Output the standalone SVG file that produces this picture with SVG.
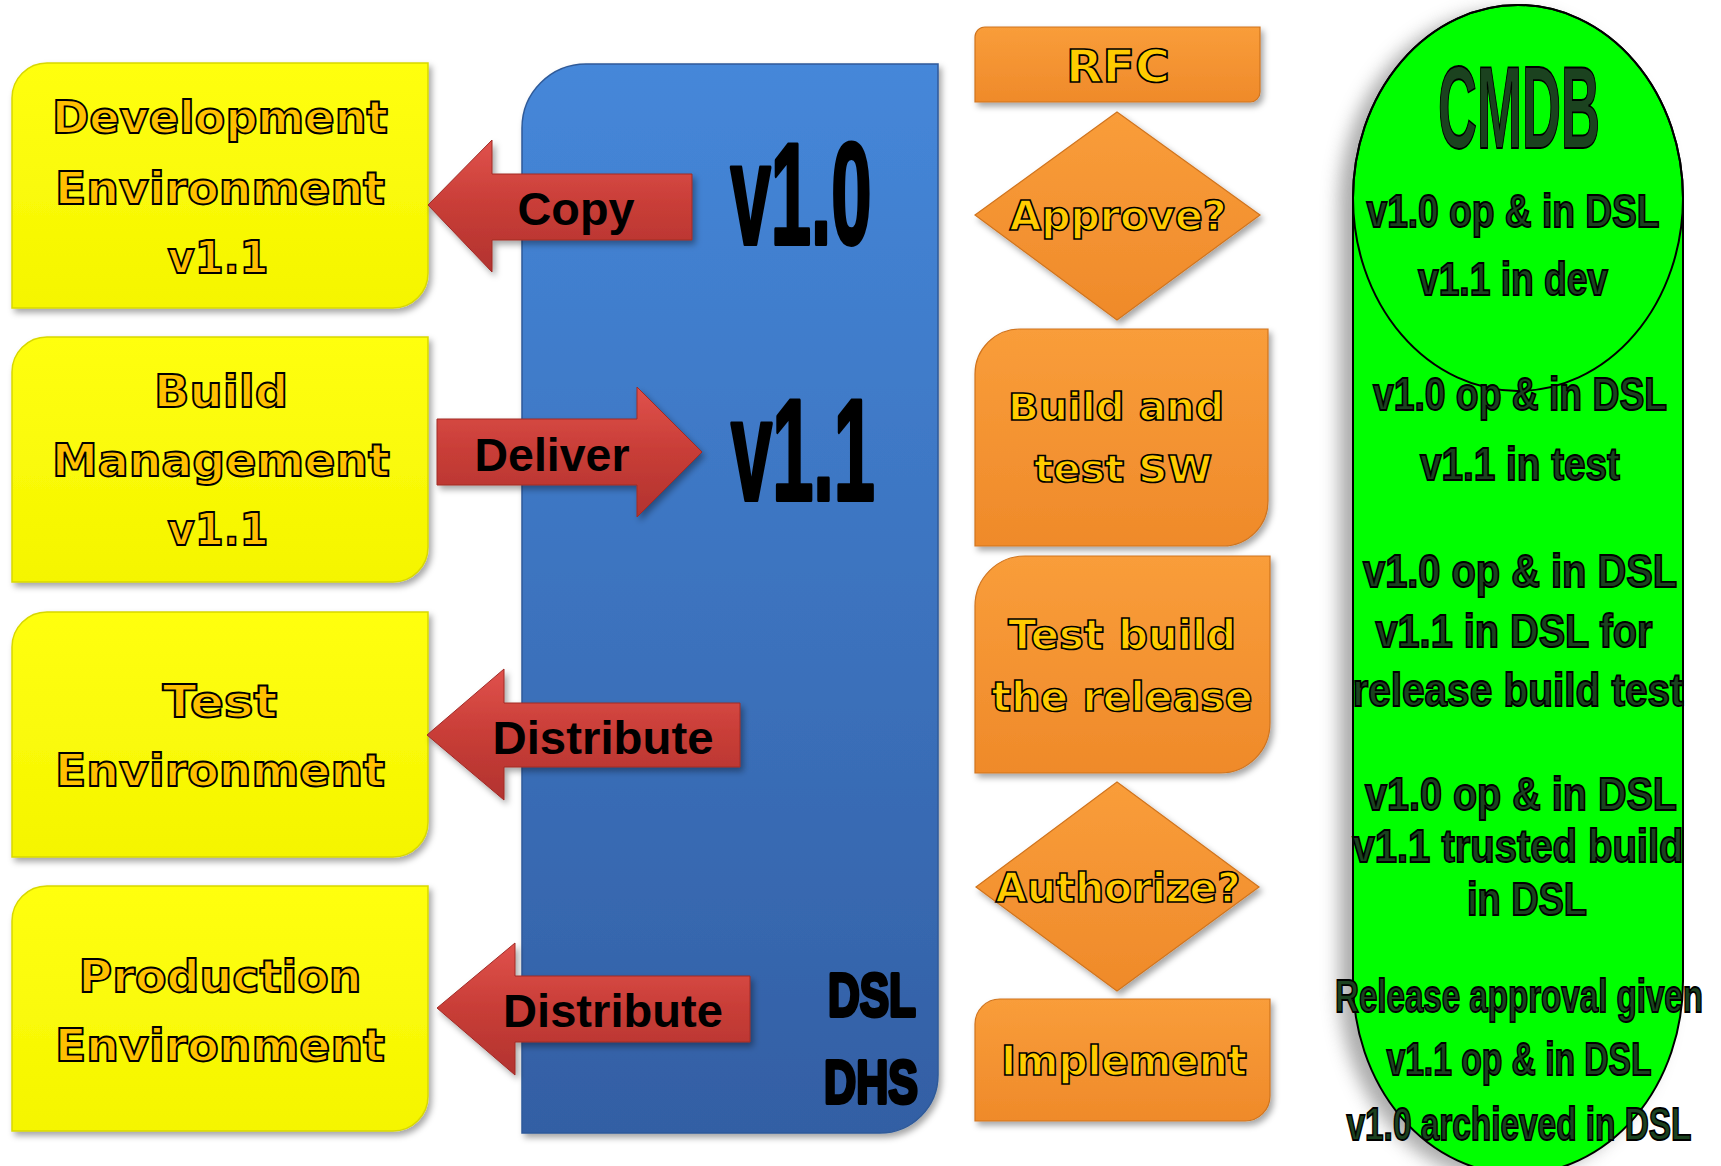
<svg xmlns="http://www.w3.org/2000/svg" width="1721" height="1166" viewBox="0 0 1721 1166">
<defs>
  <linearGradient id="gYellow" x1="0" y1="0" x2="0" y2="1">
    <stop offset="0" stop-color="#FFFF10"/>
    <stop offset="1" stop-color="#F5F500"/>
  </linearGradient>
  <linearGradient id="gBlue" x1="0" y1="0" x2="0" y2="1">
    <stop offset="0" stop-color="#4587D9"/>
    <stop offset="1" stop-color="#335FA4"/>
  </linearGradient>
  <linearGradient id="gOrange" x1="0" y1="0" x2="0" y2="1">
    <stop offset="0" stop-color="#F99D3A"/>
    <stop offset="1" stop-color="#EF8A2A"/>
  </linearGradient>
  <linearGradient id="gRed" x1="0" y1="0" x2="0" y2="1">
    <stop offset="0" stop-color="#E0524C"/>
    <stop offset="0.5" stop-color="#C83D37"/>
    <stop offset="1" stop-color="#B2332F"/>
  </linearGradient>
  <filter id="shadow" x="-10%" y="-10%" width="130%" height="130%">
    <feDropShadow dx="3" dy="4" stdDeviation="3" flood-color="#000" flood-opacity="0.35"/>
  </filter>
  <filter id="blur" x="-20%" y="-10%" width="140%" height="120%">
    <feGaussianBlur stdDeviation="9"/>
  </filter>
  <style>
    .ybox { fill: url(#gYellow); stroke: #D8D800; stroke-width: 1.5; filter: url(#shadow); }
    .obox { fill: url(#gOrange); stroke: #D0741E; stroke-width: 1.2; filter: url(#shadow); }
    .arrow { fill: url(#gRed); stroke: #A02A26; stroke-width: 1; filter: url(#shadow); }
    .wide { font-family: "DejaVu Sans", "Liberation Sans", sans-serif; font-weight: bold; fill: #FFC000; stroke: #000; stroke-width: 1.8; text-anchor: middle; }
    .owide { font-family: "DejaVu Sans", "Liberation Sans", sans-serif; font-weight: bold; fill: #FFCC00; stroke: #000; stroke-width: 1.6; text-anchor: middle; }
    .alabel { font-family: "Liberation Sans", Arial, sans-serif; font-weight: bold; fill: #000; text-anchor: middle; }
    .cond { font-family: "Liberation Sans", Arial, sans-serif; font-weight: bold; fill: #000; stroke: #000; stroke-width: 4; stroke-linejoin: round; text-anchor: middle; }
    .green { font-family: "Liberation Sans", Arial, sans-serif; font-weight: bold; fill: #1B421F; stroke: #000; stroke-width: 1.8; text-anchor: middle; }
  </style>
</defs>
<rect width="1721" height="1166" fill="#FFFFFF"/>

<!-- Yellow boxes -->
<g id="dev-env">
  <path class="ybox" d="M12 98 A35 35 0 0 1 47 63 L428 63 L428 273 A35 35 0 0 1 393 308 L12 308 Z"/>
  <text class="wide" font-size="44" x="220" y="133" textLength="336" lengthAdjust="spacingAndGlyphs">Development</text>
  <text class="wide" font-size="44" x="220" y="204" textLength="330" lengthAdjust="spacingAndGlyphs">Environment</text>
  <text class="wide" font-size="44" x="218" y="273" textLength="101" lengthAdjust="spacingAndGlyphs">v1.1</text>
</g>
<g id="build-mgmt">
  <path class="ybox" d="M12 372 A35 35 0 0 1 47 337 L428 337 L428 547 A35 35 0 0 1 393 582 L12 582 Z"/>
  <text class="wide" font-size="44" x="221" y="407" textLength="134" lengthAdjust="spacingAndGlyphs">Build</text>
  <text class="wide" font-size="44" x="221" y="476" textLength="338" lengthAdjust="spacingAndGlyphs">Management</text>
  <text class="wide" font-size="44" x="218" y="545" textLength="101" lengthAdjust="spacingAndGlyphs">v1.1</text>
</g>
<g id="test-env">
  <path class="ybox" d="M12 647 A35 35 0 0 1 47 612 L428 612 L428 822 A35 35 0 0 1 393 857 L12 857 Z"/>
  <text class="wide" font-size="44" x="220" y="717" textLength="115" lengthAdjust="spacingAndGlyphs">Test</text>
  <text class="wide" font-size="44" x="220" y="786" textLength="330" lengthAdjust="spacingAndGlyphs">Environment</text>
</g>
<g id="prod-env">
  <path class="ybox" d="M12 921 A35 35 0 0 1 47 886 L428 886 L428 1096 A35 35 0 0 1 393 1131 L12 1131 Z"/>
  <text class="wide" font-size="44" x="220" y="992" textLength="283" lengthAdjust="spacingAndGlyphs">Production</text>
  <text class="wide" font-size="44" x="220" y="1061" textLength="330" lengthAdjust="spacingAndGlyphs">Environment</text>
</g>

<!-- Blue DSL box -->
<g id="dsl">
  <path d="M522 128 A64 64 0 0 1 586 64 L938 64 L938 1075 A58 58 0 0 1 880 1133 L522 1133 Z" fill="url(#gBlue)" stroke="#2F5A99" stroke-width="1.5" filter="url(#shadow)"/>
  <text class="cond" font-size="144" x="801" y="244" textLength="141" lengthAdjust="spacingAndGlyphs">v1.0</text>
  <text class="cond" font-size="144" x="803" y="500" textLength="144" lengthAdjust="spacingAndGlyphs">v1.1</text>
  <text class="cond" font-size="62" x="872" y="1016" textLength="88" lengthAdjust="spacingAndGlyphs" stroke-width="2.5">DSL</text>
  <text class="cond" font-size="62" x="871" y="1103" textLength="94" lengthAdjust="spacingAndGlyphs" stroke-width="2.5">DHS</text>
</g>

<!-- Orange process column -->
<g id="rfc">
  <path class="obox" d="M975 37 A10 10 0 0 1 985 27 L1260 27 L1260 92 A10 10 0 0 1 1250 102 L975 102 Z"/>
  <text class="owide" font-size="44" x="1118" y="82" textLength="104" lengthAdjust="spacingAndGlyphs">RFC</text>
</g>
<g id="approve">
  <path class="obox" d="M1117 112 L1260 215 L1117 320 L975 215 Z"/>
  <text class="owide" font-size="40" x="1118" y="230" textLength="217" lengthAdjust="spacingAndGlyphs">Approve?</text>
</g>
<g id="build-test">
  <path class="obox" d="M975 374 A45 45 0 0 1 1020 329 L1268 329 L1268 501 A45 45 0 0 1 1223 546 L975 546 Z"/>
  <text class="owide" font-size="37" x="1116" y="420" textLength="216" lengthAdjust="spacingAndGlyphs">Build and</text>
  <text class="owide" font-size="37" x="1123" y="482" textLength="178" lengthAdjust="spacingAndGlyphs">test SW</text>
</g>
<g id="test-build">
  <path class="obox" d="M975 606 A50 50 0 0 1 1025 556 L1270 556 L1270 723 A50 50 0 0 1 1220 773 L975 773 Z"/>
  <text class="owide" font-size="41" x="1122" y="649" textLength="228" lengthAdjust="spacingAndGlyphs">Test build</text>
  <text class="owide" font-size="41" x="1122" y="711" textLength="261" lengthAdjust="spacingAndGlyphs">the release</text>
</g>
<g id="authorize">
  <path class="obox" d="M1117 782 L1259 887 L1117 991 L976 887 Z"/>
  <text class="owide" font-size="41" x="1118" y="902" textLength="245" lengthAdjust="spacingAndGlyphs">Authorize?</text>
</g>
<g id="implement">
  <path class="obox" d="M975 1024 A25 25 0 0 1 1000 999 L1270 999 L1270 1096 A25 25 0 0 1 1245 1121 L975 1121 Z"/>
  <text class="owide" font-size="41" x="1124" y="1075" textLength="246" lengthAdjust="spacingAndGlyphs">Implement</text>
</g>

<!-- CMDB cylinder -->
<g id="cmdb">
  <path d="M1353 198 A165 193 0 0 1 1683 198 L1683 981 A165 193 0 0 1 1353 981 Z" fill="#888" opacity="0.7" filter="url(#blur)" transform="translate(-14 6)"/>
  <path d="M1353 198 A165 193 0 0 1 1683 198 L1683 981 A165 193 0 0 1 1353 981 Z" fill="#00FF00" stroke="#000" stroke-width="2"/>
  <ellipse cx="1518" cy="198" rx="165" ry="193" fill="none" stroke="#000" stroke-width="2"/>
  <text class="green" font-size="116" x="1519" y="148" textLength="162" lengthAdjust="spacingAndGlyphs" stroke-width="2.5">CMDB</text>
  <text class="green" font-size="46" x="1513" y="227" textLength="293" lengthAdjust="spacingAndGlyphs">v1.0 op &amp; in DSL</text>
  <text class="green" font-size="46" x="1513" y="295" textLength="190" lengthAdjust="spacingAndGlyphs">v1.1 in dev</text>
  <text class="green" font-size="46" x="1520" y="410" textLength="294" lengthAdjust="spacingAndGlyphs">v1.0 op &amp; in DSL</text>
  <text class="green" font-size="46" x="1520" y="480" textLength="200" lengthAdjust="spacingAndGlyphs">v1.1 in test</text>
  <text class="green" font-size="46" x="1520" y="587" textLength="314" lengthAdjust="spacingAndGlyphs">v1.0 op &amp; in DSL</text>
  <text class="green" font-size="46" x="1514" y="647" textLength="277" lengthAdjust="spacingAndGlyphs">v1.1 in DSL for</text>
  <text class="green" font-size="46" x="1518" y="706" textLength="331" lengthAdjust="spacingAndGlyphs">release build test</text>
  <text class="green" font-size="46" x="1521" y="810" textLength="312" lengthAdjust="spacingAndGlyphs">v1.0 op &amp; in DSL</text>
  <text class="green" font-size="46" x="1518" y="862" textLength="331" lengthAdjust="spacingAndGlyphs">v1.1 trusted build</text>
  <text class="green" font-size="46" x="1527" y="915" textLength="120" lengthAdjust="spacingAndGlyphs">in DSL</text>
  <text class="green" font-size="46" x="1519" y="1012" textLength="368" lengthAdjust="spacingAndGlyphs">Release approval given</text>
  <text class="green" font-size="46" x="1519" y="1075" textLength="265" lengthAdjust="spacingAndGlyphs">v1.1 op &amp; in DSL</text>
  <text class="green" font-size="46" x="1519" y="1140" textLength="345" lengthAdjust="spacingAndGlyphs">v1.0 archieved in DSL</text>
</g>

<!-- Connectors (block arrows) -->
<g id="connectors">
  <g id="copy">
    <path class="arrow" d="M428 205 L492 140 L492 174 L692 174 L692 240 L492 240 L492 272 Z"/>
    <text class="alabel" font-size="47" x="576" y="225" textLength="117" lengthAdjust="spacingAndGlyphs">Copy</text>
  </g>
  <g id="deliver">
    <path class="arrow" d="M437 419 L637 419 L637 387 L702 452 L637 517 L637 485 L437 485 Z"/>
    <text class="alabel" font-size="47" x="552" y="471" textLength="155" lengthAdjust="spacingAndGlyphs">Deliver</text>
  </g>
  <g id="distribute-test">
    <path class="arrow" d="M427 735 L504 669 L504 703 L740 703 L740 767 L504 767 L504 800 Z"/>
    <text class="alabel" font-size="47" x="603" y="754" textLength="221" lengthAdjust="spacingAndGlyphs">Distribute</text>
  </g>
  <g id="distribute-prod">
    <path class="arrow" d="M437 1008 L515 943 L515 976 L750 976 L750 1042 L515 1042 L515 1075 Z"/>
    <text class="alabel" font-size="47" x="613" y="1027" textLength="220" lengthAdjust="spacingAndGlyphs">Distribute</text>
  </g>
</g>
</svg>
